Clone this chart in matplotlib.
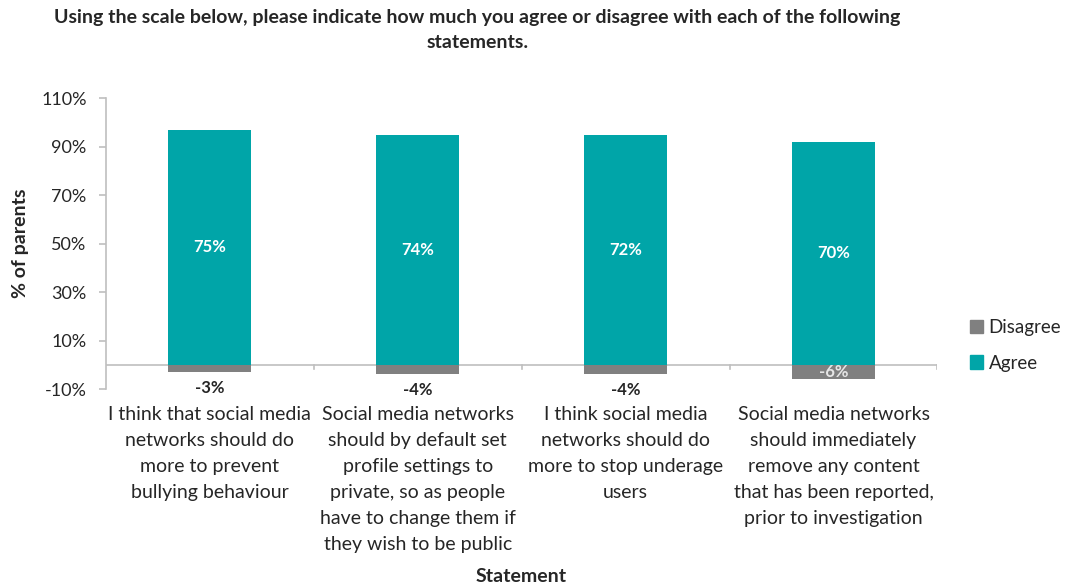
import numpy as np
import matplotlib.pyplot as plt
from matplotlib.patches import Patch

statements = [
    "I think that social media\nnetworks should do\nmore to prevent\nbullying behaviour",
    "Social media networks\nshould by default set\nprofile settings to\nprivate, so as people\nhave to change them if\nthey wish to be public",
    "I think social media\nnetworks should do\nmore to stop underage\nusers",
    "Social media networks\nshould immediately\nremove any content\nthat has been reported,\nprior to investigation",
]
agree = [75, 74, 72, 70]
agree_extra = [22, 21, 23, 22]
disagree = [-3, -4, -4, -6]
yticks = [-10, 10, 30, 50, 70, 90, 110]

teal = "#00A5A8"
grey = "#808080"
text_col = "#262626"
axis_col = "#BFBFBF"

plt.rcParams["font.family"] = ["Lato", "DejaVu Sans"]

fig = plt.figure(figsize=(10.66, 5.85), dpi=100)
ax = fig.add_axes([0.0994, 0.335, 0.78, 0.497])

x = np.arange(len(statements))
w = 0.4
ax.bar(x, agree, w, color=teal, zorder=2)
ax.bar(x, agree_extra, w, bottom=agree, color=teal, zorder=2)
ax.bar(x, disagree, w, color=grey, zorder=2)

for i in range(len(x)):
    top = agree[i] + agree_extra[i]
    ax.text(x[i], top / 2, f"{agree[i]}%", ha="center", va="center",
            color="white", fontsize=12, fontweight="bold")
    if disagree[i] <= -5:
        ax.text(x[i], disagree[i] / 2, f"{disagree[i]}%", ha="center", va="center",
                color="#E6E6E6", fontsize=12, fontweight="bold")
    else:
        ax.text(x[i], disagree[i] - 3.3, f"{disagree[i]}%", ha="center", va="top",
                color=text_col, fontsize=12, fontweight="bold")

ax.set_xlim(-0.5, len(x) - 0.5)
ax.set_ylim(-10, 110)
ax.set_yticks(yticks)
ax.set_yticklabels([f"{t}%" for t in yticks], fontsize=13, color=text_col)
ax.tick_params(axis="y", length=5, color=axis_col, width=1.2, pad=9)
ax.set_xticks([])

for s in ["top", "right", "bottom"]:
    ax.spines[s].set_visible(False)
ax.spines["left"].set_color(axis_col)
ax.spines["left"].set_linewidth(1.2)

# zero line with category dividers
ax.axhline(0, color=axis_col, lw=1.2, zorder=1)
for b in np.arange(0.5, len(x), 1.0):
    ax.plot([b, b], [0, -1.8], color=axis_col, lw=1.2, zorder=1)

for i, s in enumerate(statements):
    ax.text(x[i], -17.2, s, ha="center", va="top", fontsize=14,
            color=text_col, linespacing=1.63)

ax.set_ylabel("% of parents", fontsize=14, fontweight="bold", color=text_col, labelpad=9)
fig.text(0.489, 0.0, "Statement", ha="center", va="bottom", fontsize=14,
         fontweight="bold", color=text_col)
fig.text(0.448, 0.985, "Using the scale below, please indicate how much you agree or disagree with each of the following\nstatements.",
         ha="center", va="top", fontsize=14, fontweight="bold", color=text_col, linespacing=1.6)

handles = [Patch(color=grey, label="Disagree"), Patch(color=teal, label="Agree")]
fig.legend(handles=handles, loc="center left", bbox_to_anchor=(0.894, 0.41), frameon=False,
           fontsize=13.5, handlelength=0.7, handleheight=0.7, handletextpad=0.3, labelspacing=1.0,
           labelcolor=text_col)

fig.savefig("out.png", dpi=100)
